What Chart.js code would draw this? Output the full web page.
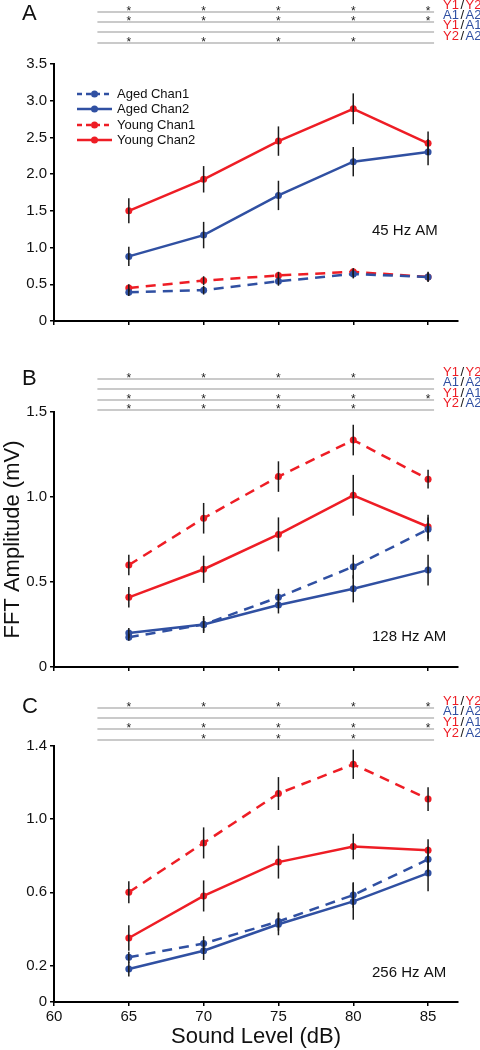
<!DOCTYPE html>
<html>
<head>
<meta charset="utf-8">
<script src="https://cdn.jsdelivr.net/npm/chart.js@4.4.1/dist/chart.umd.min.js"></script>
<style>
  html, body { margin: 0; padding: 0; background: #fff; }
  #wrap { position: relative; width: 480px; height: 1050px; overflow: hidden; }
  canvas { position: absolute; left: 0; }
</style>
</head>
<body>
<div id="wrap">
  <canvas id="panelA" width="480" height="345" style="top:0px"></canvas>
  <canvas id="panelB" width="480" height="345" style="top:345px"></canvas>
  <canvas id="panelC" width="480" height="360" style="top:690px"></canvas>
</div>
<script>
// sound levels (dB) and axis ticks
const levels = [65, 70, 75, 80, 85];
const xTicks = [60, 65, 70, 75, 80, 85];

// Panel A - 45 Hz AM
const agedCh1A = [0.39, 0.42, 0.54, 0.64, 0.60];
const agedCh1AErr = [0.05, 0.06, 0.06, 0.06, 0.06];
const agedCh2A = [0.88, 1.17, 1.71, 2.17, 2.30];
const agedCh2AErr = [0.13, 0.18, 0.20, 0.20, 0.18];
const youngCh1A = [0.45, 0.55, 0.62, 0.67, 0.60];
const youngCh1AErr = [0.05, 0.06, 0.05, 0.05, 0.07];
const youngCh2A = [1.50, 1.93, 2.45, 2.89, 2.42];
const youngCh2AErr = [0.17, 0.18, 0.20, 0.21, 0.16];
const yTicksA = [0, 0.5, 1.0, 1.5, 2.0, 2.5, 3.0, 3.5];

// Panel B - 128 Hz AM
const agedCh1B = [0.175, 0.25, 0.41, 0.59, 0.81];
const agedCh1BErr = [0.02, 0.04, 0.05, 0.07, 0.07];
const agedCh2B = [0.20, 0.25, 0.365, 0.46, 0.57];
const agedCh2BErr = [0.03, 0.05, 0.05, 0.08, 0.09];
const youngCh1B = [0.60, 0.875, 1.12, 1.335, 1.105];
const youngCh1BErr = [0.06, 0.09, 0.09, 0.09, 0.055];
const youngCh2B = [0.41, 0.575, 0.78, 1.01, 0.825];
const youngCh2BErr = [0.06, 0.08, 0.10, 0.12, 0.07];
const yTicksB = [0, 0.5, 1.0, 1.5];

// Panel C - 256 Hz AM
const agedCh1C = [0.245, 0.32, 0.44, 0.585, 0.78];
const agedCh1CErr = [0.03, 0.04, 0.05, 0.07, 0.07];
const agedCh2C = [0.18, 0.28, 0.425, 0.55, 0.705];
const agedCh2CErr = [0.04, 0.05, 0.06, 0.10, 0.10];
const youngCh1C = [0.60, 0.87, 1.14, 1.30, 1.11];
const youngCh1CErr = [0.06, 0.085, 0.09, 0.08, 0.065];
const youngCh2C = [0.35, 0.58, 0.765, 0.85, 0.83];
const youngCh2CErr = [0.07, 0.085, 0.09, 0.07, 0.06];
const yTicksC = [0, 0.2, 0.6, 1.0, 1.4];

// significance rows (levels marked with *)
const rowLabels = [['Y1', 'Y2'], ['A1', 'A2'], ['Y1', 'A1'], ['Y2', 'A2']];
const sigA = [[65, 70, 75, 80, 85], [65, 70, 75, 80, 85], [], [65, 70, 75, 80]];
const sigB = [[65, 70, 75, 80], [], [65, 70, 75, 80, 85], [65, 70, 75, 80]];
const sigC = [[65, 70, 75, 80, 85], [], [65, 70, 75, 80, 85], [70, 75, 80]];

const RED = '#ee1d25';
const BLUE = '#3050a2';
const FONT = '"Liberation Sans", Arial, Helvetica, sans-serif';

Chart.defaults.font.family = FONT;
Chart.defaults.color = '#111';

function series(label, vals, err, color, dashed) {
  return {
    label: label,
    data: levels.map((x, i) => ({ x: x, y: vals[i] })),
    err: err,
    dashed: dashed,
    borderColor: color,
    backgroundColor: color,
    pointBackgroundColor: color,
    pointBorderColor: color,
    pointBorderWidth: 0,
    pointRadius: 3.5,
    borderWidth: 2.5,
    borderDash: dashed ? [10, 7] : [],
    tension: 0
  };
}

// vertical error bars through the scales
const errorBars = {
  id: 'errorBars',
  afterDatasetsDraw(chart) {
    const ctx = chart.ctx;
    const y = chart.scales.y;
    ctx.save();
    ctx.strokeStyle = '#1a1a1a';
    ctx.lineWidth = 1.5;
    chart.data.datasets.forEach((ds, di) => {
      const meta = chart.getDatasetMeta(di);
      meta.data.forEach((pt, i) => {
        const v = ds.data[i].y, e = ds.err[i];
        ctx.beginPath();
        ctx.moveTo(pt.x, y.getPixelForValue(v + e));
        ctx.lineTo(pt.x, y.getPixelForValue(v - e));
        ctx.stroke();
      });
    });
    ctx.restore();
  }
};

// panel letter, significance rows, note and legend
const decor = {
  id: 'decor',
  afterDraw(chart, args, o) {
    const ctx = chart.ctx;
    const x = chart.scales.x;
    ctx.save();
    ctx.fillStyle = '#111';
    ctx.font = '22px ' + FONT;
    ctx.textBaseline = 'middle';
    ctx.textAlign = 'left';
    ctx.fillText(o.letter, 22, o.letterY);

    const x0 = x.getPixelForValue(62.9), x1 = x.getPixelForValue(85.4);
    o.rowY.forEach((ly, r) => {
      ctx.strokeStyle = '#b9b9b9';
      ctx.lineWidth = 1.5;
      ctx.beginPath();
      ctx.moveTo(x0, ly);
      ctx.lineTo(x1, ly);
      ctx.stroke();

      ctx.fillStyle = '#222';
      ctx.font = '12px ' + FONT;
      ctx.textAlign = 'center';
      ctx.textBaseline = 'alphabetic';
      o.sig[r].forEach(v => ctx.fillText('*', x.getPixelForValue(v), ly + 3));

      ctx.font = '13px ' + FONT;
      ctx.textAlign = 'left';
      ctx.textBaseline = 'middle';
      let tx = 443;
      const parts = [rowLabels[r][0], '/', rowLabels[r][1]];
      parts.forEach(p => {
        ctx.fillStyle = p === '/' ? '#111' : (p[0] === 'Y' ? RED : BLUE);
        ctx.fillText(p, tx, ly - 7);
        tx += ctx.measureText(p).width + 1.5;
      });
    });

    ctx.fillStyle = '#111';
    ctx.font = '15px ' + FONT;
    ctx.textAlign = 'left';
    ctx.textBaseline = 'middle';
    ctx.fillText(o.note, 372, o.noteY);

    if (o.legend) {
      const rows = [94, 109, 125, 140];
      chart.data.datasets.forEach((ds, i) => {
        const ly = rows[i];
        ctx.strokeStyle = ds.borderColor;
        ctx.lineWidth = 2.5;
        ctx.setLineDash(ds.dashed ? [5, 4] : []);
        ctx.beginPath();
        ctx.moveTo(77, ly);
        ctx.lineTo(112, ly);
        ctx.stroke();
        ctx.setLineDash([]);
        ctx.fillStyle = ds.borderColor;
        ctx.beginPath();
        ctx.arc(94.5, ly, 3.5, 0, Math.PI * 2);
        ctx.fill();
        ctx.fillStyle = '#111';
        ctx.font = '13px ' + FONT;
        ctx.fillText(ds.label, 117, ly);
      });
    }
    ctx.restore();
  }
};

function makePanel(id, sets, yMax, yTicks, xh, pad, deco, opts) {
  const tickFmt = v => (v === 0 ? '0' : v.toFixed(1));
  new Chart(document.getElementById(id), {
    type: 'line',
    data: { datasets: sets },
    options: {
      responsive: false,
      animation: false,
      devicePixelRatio: 1,
      layout: { padding: pad },
      plugins: {
        legend: { display: false },
        tooltip: { enabled: false },
        decor: deco
      },
      scales: {
        x: {
          type: 'linear',
          min: 60,
          max: 87,
          afterBuildTicks: s => { s.ticks = xTicks.map(v => ({ value: v })); },
          afterFit: s => { s.height = xh; },
          grid: { drawOnChartArea: false, drawTicks: true, tickLength: 4, color: '#000', lineWidth: 1.5 },
          border: { color: '#000', width: 2 },
          ticks: { display: !!opts.xLabels, font: { size: 15 }, color: '#111', padding: 2, maxRotation: 0, autoSkip: false },
          title: {
            display: !!opts.xTitle,
            text: opts.xTitle || '',
            font: { size: 22 },
            color: '#111',
            padding: 0
          }
        },
        y: {
          min: 0,
          max: yMax,
          afterBuildTicks: s => { s.ticks = yTicks.map(v => ({ value: v })); },
          afterFit: s => { s.width = 54; },
          grid: { drawOnChartArea: false, drawTicks: true, tickLength: 4, color: '#000', lineWidth: 1.5 },
          border: { color: '#000', width: 2 },
          ticks: { callback: tickFmt, font: { size: 15 }, color: '#111', padding: 3 },
          title: {
            display: !!opts.yTitle,
            text: opts.yTitle || '',
            font: { size: 22 },
            color: '#111',
            padding: 0
          }
        }
      }
    },
    plugins: [errorBars, decor]
  });
}

makePanel('panelA', [
  series('Aged Chan1', agedCh1A, agedCh1AErr, BLUE, true),
  series('Aged Chan2', agedCh2A, agedCh2AErr, BLUE, false),
  series('Young Chan1', youngCh1A, youngCh1AErr, RED, true),
  series('Young Chan2', youngCh2A, youngCh2AErr, RED, false)
], 3.5, yTicksA, 10, { top: 64, bottom: 14, left: 0, right: 22 },
  { letter: 'A', letterY: 14, rowY: [12, 22, 32, 43], sig: sigA, note: '45 Hz AM', noteY: 231, legend: true },
  {});

makePanel('panelB', [
  series('Aged Chan1', agedCh1B, agedCh1BErr, BLUE, true),
  series('Aged Chan2', agedCh2B, agedCh2BErr, BLUE, false),
  series('Young Chan1', youngCh1B, youngCh1BErr, RED, true),
  series('Young Chan2', youngCh2B, youngCh2BErr, RED, false)
], 1.5, yTicksB, 10, { top: 67, bottom: 13, left: 0, right: 22 },
  { letter: 'B', letterY: 34, rowY: [34, 44, 55, 65], sig: sigB, note: '128 Hz AM', noteY: 292, legend: false },
  { yTitle: 'FFT Amplitude (mV)' });

makePanel('panelC', [
  series('Aged Chan1', agedCh1C, agedCh1CErr, BLUE, true),
  series('Aged Chan2', agedCh2C, agedCh2CErr, BLUE, false),
  series('Young Chan1', youngCh1C, youngCh1CErr, RED, true),
  series('Young Chan2', youngCh2C, youngCh2CErr, RED, false)
], 1.4, yTicksC, 48, { top: 56, bottom: 0, left: 0, right: 22 },
  { letter: 'C', letterY: 17, rowY: [18, 28, 39, 50], sig: sigC, note: '256 Hz AM', noteY: 283, legend: false },
  { xLabels: true, xTitle: 'Sound Level (dB)' });
</script>
</body>
</html>
